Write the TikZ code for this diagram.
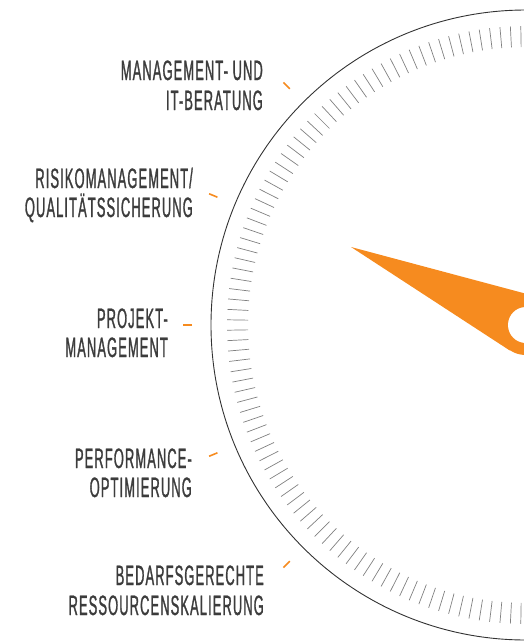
\documentclass[tikz,border=0pt]{standalone}
\usepackage{fontspec}
\setmainfont{Liberation Sans}
\newfontfamily\labelfont[FakeStretch=0.46,FakeBold=1,LetterSpace=4]{Liberation Sans}
\usetikzlibrary{calc}
\definecolor{needle}{HTML}{F68B1F}
\definecolor{txt}{HTML}{3C3C3C}
\begin{document}
\begin{tikzpicture}[x=1pt,y=-1pt,
  lbl/.style={anchor=base east, inner sep=0pt, text=txt, font=\labelfont\fontsize{28}{30}\selectfont},
  tickmark/.style={draw=black!50, line width=0.7pt},
  dashmark/.style={draw=needle, line width=1.6pt},
  rim/.style={draw=black!80, line width=0.9pt}]
\useasboundingbox (0,0) rectangle (524,641);
\clip (0,0) rectangle (524,641);
\coordinate (c) at (526,325);
\draw[rim] (c) circle[radius=315pt];
\foreach \a in {1,3,...,359} \draw[tickmark] ($(c)+(\a:278pt)$) -- ($(c)+(\a:299pt)$);
\foreach \a/\n in {135/d1,157.5/d2,180/d3,202.5/d4,225/d5} {
  \coordinate (\n a) at ($(c)+(\a:334pt)$);
  \coordinate (\n b) at ($(c)+(\a:343pt)$);
  \draw[dashmark] (\n a) -- (\n b);
}
\coordinate (tip) at (351,247);
\node[circle, minimum size=60pt, inner sep=0pt] (hub) at (c) {};
\coordinate (t1) at (tangent cs:node=hub,point={(tip)},solution=1);
\coordinate (t2) at (tangent cs:node=hub,point={(tip)},solution=2);
\fill[needle] (tip) -- (t1) -- (t2) -- cycle;
\fill[needle] (c) circle[radius=30pt];
\fill[white] (c) circle[radius=18pt];
\node[lbl] (l1a) at (263,80) {MANAGEMENT- UND};
\node[lbl] (l1b) at (263,110) {IT-BERATUNG};
\node[lbl] (l2a) at (193,188) {RISIKOMANAGEMENT/};
\node[lbl] (l2b) at (193,217) {QUALITÄTSSICHERUNG};
\node[lbl] (l3a) at (168,328) {PROJEKT-};
\node[lbl] (l3b) at (168,357) {MANAGEMENT};
\node[lbl] (l4a) at (192,468) {PERFORMANCE-};
\node[lbl] (l4b) at (192,497) {OPTIMIERUNG};
\node[lbl] (l5a) at (264,585) {BEDARFSGERECHTE};
\node[lbl] (l5b) at (264,615) {RESSOURCENSKALIERUNG};
\end{tikzpicture}
\end{document}
